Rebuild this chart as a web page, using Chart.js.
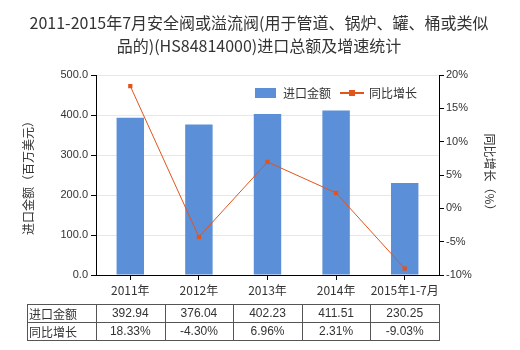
<!DOCTYPE html>
<html>
<head>
<meta charset="utf-8">
<script src="https://cdn.jsdelivr.net/npm/chart.js@4.4.1/dist/chart.umd.min.js"></script>
<style>
  html, body { margin: 0; padding: 0; background: #fff; }
  #wrap { width: 520px; height: 350px; position: relative; }
</style>
</head>
<body>
<div id="wrap"><canvas id="chart" width="520" height="350"></canvas></div>
<script>
/* ---------- data ---------- */
const categories = ['2011年', '2012年', '2013年', '2014年', '2015年1-7月'];
const importValues = [392.94, 376.04, 402.23, 411.51, 230.25];
const growthRates = [18.33, -4.30, 6.96, 2.31, -9.03];
const tableValueText = ['392.94', '376.04', '402.23', '411.51', '230.25'];
const tableGrowthText = ['18.33%', '-4.30%', '6.96%', '2.31%', '-9.03%'];
const seriesNames = ['进口金额', '同比增长'];
const titleLines = ['2011-2015年7月安全阀或溢流阀(用于管道、锅炉、罐、桶或类似', '品的)(HS84814000)进口总额及增速统计'];

const FONT = '"Liberation Sans", "Noto Sans CJK SC", sans-serif';
const CJK = '"Noto Sans CJK SC", "Liberation Sans", sans-serif';
const BAR_COLOR = '#5b8fd7';
const LINE_COLOR = '#e2541c';

/* ---------- custom drawing: title, legend, axis titles, table ---------- */
const extras = {
  id: 'extras',
  afterDraw(chart) {
    const ctx = chart.ctx;
    const area = chart.chartArea;
    const x = chart.scales.x;
    ctx.save();

    // title
    ctx.fillStyle = '#333';
    ctx.font = '16px ' + CJK;
    ctx.textAlign = 'center';
    ctx.textBaseline = 'middle';
    ctx.fillText(titleLines[0], 259, 23);
    ctx.fillText(titleLines[1], 259, 46);

    // legend
    ctx.font = '12px ' + CJK;
    ctx.textAlign = 'left';
    ctx.fillStyle = BAR_COLOR;
    ctx.fillRect(255, 88, 21, 10);
    ctx.fillStyle = '#333';
    ctx.fillText(seriesNames[0], 283, 93);
    ctx.strokeStyle = LINE_COLOR;
    ctx.lineWidth = 2;
    ctx.beginPath(); ctx.moveTo(340, 93); ctx.lineTo(364, 93); ctx.stroke();
    ctx.fillStyle = LINE_COLOR;
    ctx.fillRect(349, 90, 6, 6);
    ctx.fillStyle = '#333';
    ctx.fillText(seriesNames[1], 369, 93);

    // axis titles
    const midY = (area.top + area.bottom) / 2;
    ctx.font = '12px ' + CJK;
    ctx.textAlign = 'center';
    ctx.save();
    ctx.translate(28, midY);
    ctx.rotate(-Math.PI / 2);
    ctx.fillText('进口金额（百万美元）', 0, 0);
    ctx.restore();
    ctx.save();
    ctx.translate(490, midY);
    ctx.rotate(Math.PI / 2);
    ctx.fillText('同比增长（%）', 0, 0);
    ctx.restore();

    // table
    const tLeft = 27, tTop = 304, rowH = 18;
    const colW = (area.right - area.left) / categories.length;
    ctx.strokeStyle = '#555';
    ctx.lineWidth = 1;
    ctx.beginPath();
    for (let r = 0; r <= 2; r++) {
      const yy = tTop + r * rowH + 0.5;
      ctx.moveTo(tLeft, yy); ctx.lineTo(area.right + 0.5, yy);
    }
    const xs = [tLeft + 0.5];
    for (let i = 0; i <= categories.length; i++) xs.push(Math.round(area.left + i * colW) + 0.5);
    xs.forEach(xx => { ctx.moveTo(xx, tTop); ctx.lineTo(xx, tTop + 2 * rowH + 1); });
    ctx.stroke();

    ctx.fillStyle = '#333';
    ctx.font = '12px ' + CJK;
    ctx.textAlign = 'left';
    ctx.fillText(seriesNames[0], tLeft + 2, tTop + rowH / 2 + 1);
    ctx.fillText(seriesNames[1], tLeft + 2, tTop + rowH * 1.5 + 1);
    ctx.font = '12px ' + FONT;
    ctx.textAlign = 'center';
    categories.forEach((c, i) => {
      const cx = x.getPixelForValue(i);
      ctx.fillText(tableValueText[i], cx, tTop + rowH / 2 + 1);
      ctx.fillText(tableGrowthText[i], cx, tTop + rowH * 1.5 + 1);
    });
    ctx.restore();
  }
};

/* ---------- chart ---------- */
new Chart(document.getElementById('chart'), {
  type: 'bar',
  data: {
    labels: categories,
    datasets: [
      {
        type: 'line',
        label: seriesNames[1],
        data: growthRates,
        yAxisID: 'y1',
        borderColor: LINE_COLOR,
        backgroundColor: LINE_COLOR,
        borderWidth: 1,
        pointStyle: 'rect',
        pointRadius: 3,
        pointBorderWidth: 0,
        tension: 0,
        order: 0
      },
      {
        type: 'bar',
        label: seriesNames[0],
        data: importValues,
        yAxisID: 'y',
        backgroundColor: BAR_COLOR,
        barPercentage: 1,
        categoryPercentage: 0.4,
        order: 1
      }
    ]
  },
  options: {
    responsive: false,
    animation: false,
    layout: { padding: { top: 75, bottom: 47, left: 0, right: 0 } },
    plugins: { legend: { display: false }, title: { display: false }, tooltip: { enabled: false } },
    scales: {
      x: {
        grid: { display: true, drawOnChartArea: false, offset: false, color: '#000', tickLength: 5 },
        border: { color: '#000', width: 1 },
        ticks: { color: '#333', font: { size: 12, family: CJK }, padding: 3, maxRotation: 0, autoSkip: false },
        afterFit: s => { s.height = 28; }
      },
      y: {
        position: 'left',
        min: 0, max: 500,
        ticks: { stepSize: 100, color: '#333', font: { size: 11, family: FONT }, padding: 3,
                 callback: v => v.toFixed(1) },
        grid: { color: '#e3e8ea', tickColor: '#000', tickLength: 5 },
        border: { color: '#000', width: 1 },
        afterFit: s => { s.width = 96; }
      },
      y1: {
        position: 'right',
        min: -10, max: 20,
        ticks: { stepSize: 5, color: '#333', font: { size: 11, family: FONT }, padding: 2,
                 callback: v => v + '%' },
        grid: { drawOnChartArea: false, tickColor: '#000', tickLength: 5 },
        border: { color: '#000', width: 1 },
        afterFit: s => { s.width = 81; }
      }
    }
  },
  plugins: [extras]
});
</script>
</body>
</html>
